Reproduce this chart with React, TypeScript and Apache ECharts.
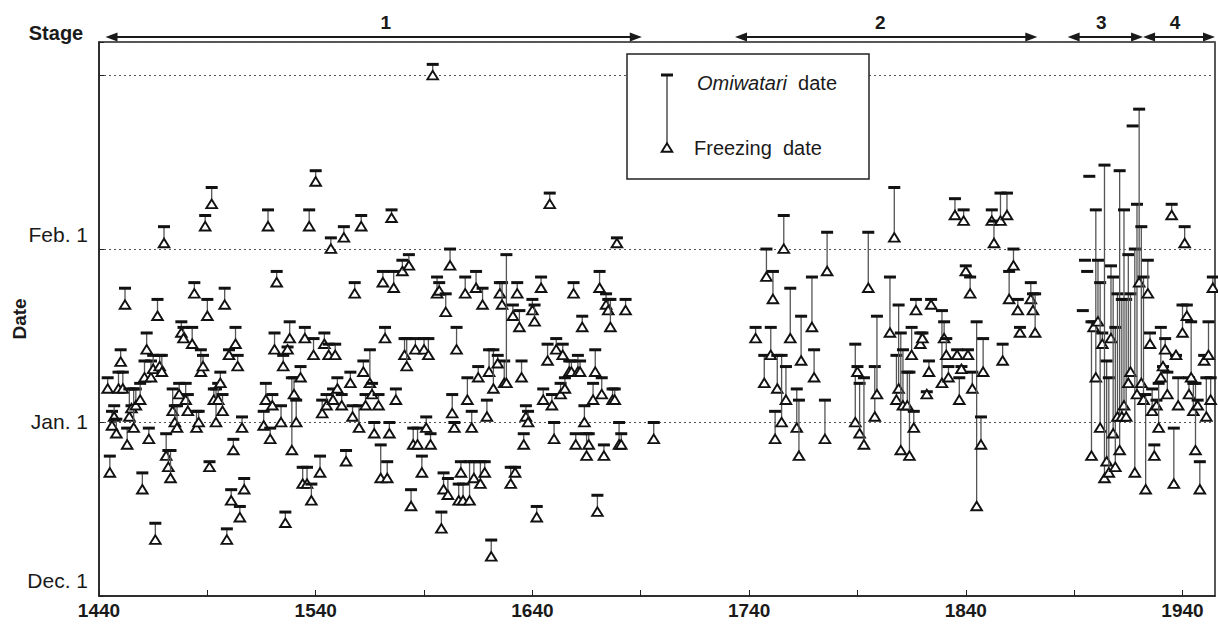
import React, { useEffect, useRef } from "react";
import * as echarts from "echarts";

// Year of observation
const years = [
  1444, 1445, 1446, 1447, 1448, 1449, 1450, 1451, 1452, 1453, 1454, 1455, 1456, 1457, 1459, 1460, 1461, 1462, 1463, 1464,
  1465, 1466, 1467, 1468, 1469, 1470, 1471, 1472, 1473, 1474, 1475, 1476, 1477, 1478, 1479, 1480, 1481, 1483, 1484, 1485,
  1486, 1487, 1488, 1489, 1490, 1491, 1492, 1493, 1494, 1495, 1496, 1497, 1498, 1499, 1500, 1501, 1502, 1503, 1504, 1505,
  1506, 1507, 1516, 1517, 1518, 1519, 1520, 1521, 1522, 1524, 1525, 1526, 1527, 1528, 1529, 1530, 1531, 1533, 1534, 1535,
  1536, 1537, 1538, 1539, 1540, 1542, 1543, 1544, 1545, 1546, 1547, 1548, 1549, 1550, 1552, 1553, 1554, 1556, 1557, 1558,
  1560, 1561, 1562, 1563, 1565, 1566, 1567, 1569, 1570, 1571, 1572, 1573, 1574, 1575, 1576, 1577, 1580, 1581, 1582, 1583,
  1584, 1585, 1586, 1587, 1589, 1590, 1591, 1592, 1593, 1594, 1596, 1597, 1598, 1599, 1600, 1601, 1602, 1603, 1604, 1605,
  1606, 1607, 1608, 1609, 1610, 1611, 1612, 1613, 1614, 1615, 1616, 1617, 1618, 1619, 1620, 1621, 1622, 1624, 1625, 1626,
  1627, 1628, 1630, 1631, 1632, 1633, 1634, 1635, 1636, 1637, 1638, 1640, 1641, 1642, 1644, 1645, 1647, 1648, 1649, 1650,
  1651, 1653, 1654, 1655, 1657, 1658, 1659, 1660, 1661, 1662, 1663, 1664, 1665, 1666, 1668, 1669, 1670, 1671, 1672, 1673,
  1674, 1675, 1676, 1677, 1678, 1679, 1680, 1681, 1683, 1696,
  1743, 1747, 1748, 1750, 1751, 1752, 1753, 1755, 1756, 1757, 1759, 1762, 1763, 1764, 1769, 1770, 1775, 1776, 1789, 1790,
  1791, 1793, 1795, 1798, 1799, 1805, 1807, 1808, 1809, 1810, 1811, 1813, 1814, 1815, 1816, 1817, 1819, 1820, 1822, 1823,
  1824, 1829, 1830, 1831, 1832, 1835, 1836, 1837, 1838, 1839, 1840, 1841, 1842, 1843, 1845, 1847, 1848, 1852, 1853, 1856,
  1857, 1859, 1860, 1862, 1864, 1865, 1870, 1871, 1872,
  1894, 1895, 1896, 1897, 1898, 1899, 1900, 1901, 1902, 1903, 1904, 1905, 1906, 1907, 1908, 1909, 1910, 1911, 1912, 1913,
  1914, 1915, 1916, 1917, 1918, 1919, 1920, 1921, 1922, 1923, 1924, 1925, 1926, 1927, 1928, 1929, 1930, 1931, 1932, 1933,
  1935, 1936, 1937, 1938, 1940, 1941, 1942, 1943, 1944, 1945, 1946, 1947, 1948, 1950, 1951, 1952, 1953, 1954,
];

// Omiwatari date, days after Dec. 1
const omiwatari = [
  39, 25, 33, 34, 31.6, 40, 44, 40, 55, 30, 37, 34, 37, 37, 38, 22, 42, 47, 30, 42,
  43, 13, 53, 43, 43, 66, 29, 26, 26, 37, 34, 34, 38, 49, 48, 38, 36, 48, 56, 33,
  33, 44, 43, 68, 53, 24, 73, 37, 37, 38, 40, 36, 55, 12, 44, 19, 28, 48, 43, 16,
  32, 21, 33, 38, 69, 30, 36, 47, 58, 34, 43, 15, 44.5, 49, 39, 39, 35, 41, 23, 48,
  23, 69, 20, 46, 76, 25, 35, 47, 36, 45, 64, 37, 45, 39, 36, 66, 26, 40, 34, 56,
  34, 68, 42, 36, 44, 38, 31, 36, 27, 58, 48, 24, 31, 69, 58, 37, 60, 46, 46, 61,
  19, 30, 46, 30, 25, 46, 32, 46, 29, 95, 57, 56, 15, 22, 54, 21, 62, 36, 31, 48,
  20, 24, 20, 57, 39, 24, 33, 24, 58, 41, 24, 55, 24, 35, 44, 10, 44, 43, 56, 56,
  42, 61, 23, 52, 23, 56, 51, 42, 29, 34, 33, 53, 52, 16, 57, 37, 45, 72, 36, 31,
  46, 38, 45, 39, 42, 42, 56, 29, 43, 42, 50, 34, 29, 29, 38, 44, 18, 58, 39, 27,
  54, 53, 53, 37, 37, 64, 31, 29, 53, 31,
  48, 43, 62, 48, 58, 33, 43, 43, 68, 41, 55, 37, 35, 50, 57, 44, 35, 65, 45, 41,
  38, 39, 65, 41, 50, 57, 73, 43, 52, 47, 44, 40, 40, 48, 33, 53, 47, 47, 36.5, 42,
  53, 51, 49, 46, 41, 71, 44, 39, 41, 69, 59, 44, 57, 40, 49, 32, 46, 69, 67, 72,
  45, 72, 58, 62, 53, 48, 56, 54, 54,
  51, 60, 58, 75, 49, 49, 69, 60, 56, 47, 77, 42, 39, 59, 57, 48, 54, 76, 53, 69,
  53, 61, 54, 84, 62, 70, 87, 66, 57, 36, 60, 47, 37, 27, 35, 38, 48, 41, 46, 40,
  70, 30, 43, 39, 52, 66, 52, 39, 49, 38, 38, 35, 24, 43, 39, 49, 39, 57,
];

// Freezing date, days after Dec. 1 (null = not recorded)
const freezing = [
  37, 22, 30.4, 32, 29, 37, 41.8, 37, 52, 27, 32, 33.5, 30, 34, 35, 19, 39, 44, 28, 39,
  40.5, 10, 50, 41, 40, 63, 25, 23, 21, 33, 31, 30, 36, 47, 46, 35, 33, 45, 54, 30,
  31, 40, 41, 66, 50, 23, 70, 35, 31, 35, 38, 33, 52, 10, 43, 17, 26, 45, 41, 14,
  30, 19, 30.4, 35, 66, 28, 34, 44, 56, 31, 41, 13, 44, 46, 26, 36, 31, 39, 20, 46,
  20, 66, 17, 43, 74, 22, 32.6, 45, 34, 43, 62, 35, 43, 37, 34, 64, 24, 38, 32, 54,
  30, 66, 40, 34, 38, 36, 29, 34, 21, 56, 46, 21, 29, 67.5, 55, 35, 58, 43, 41, 59,
  16, 27, 44, 27, 22, 44, 30, 43, 27, 93, 54, 54.5, 12, 19, 50.7, 18, 59, 32.6, 30, 44,
  17, 22, 17, 54, 35, 17, 30, 21, 55, 39, 20, 52, 22, 32, 40, 7, 37, 41.5, 54, 52,
  38, 38, 20, 50, 22, 54, 48, 39, 27, 32, 31, 51, 49, 14, 55, 35, 42, 70, 34, 28,
  44, 36, 43, 37, 40, 40, 54, 27, 40, 40, 48, 31, 25, 27, 35, 40, 15, 55, 36, 25,
  52, 51, 48, 35, 35, 63, 27, 27, 51, 28,
  46, 38, 57, 43, 53, 28, 37, 31, 62, 35, 46, 30, 25, 42, 48, 39, 28, 58, 31, 40,
  29, 27, 55, 32, 36, 47, 64, 35, 37, 26, 34, 34, 25, 43, 30, 51, 45, 46, 36, 40,
  52, 38, 46, 43, 39, 68, 43, 35, 40.5, 67, 58, 43, 54, 37, 16, 27, 40, 67, 63, 67,
  42, 68, 53, 59, 51, 47, 53, 51, 47,
  null, null, null, null, 25, 48, 39, 49, 30, 45, 21, 24, 22, 46, 29, 23, 32, 26, 32, 34,
  32, 38, 40, null, 22, 36, 56, 38, 35, 19, 54, 45, 33, 25, 34, 30, 39, 41, 44, 36,
  68, 20, 43, 34, 47, 63, 50, 36, 39, 33, 26, 34, 19, 42, 32, 43, 35, 55,
];

// Stages shown above the plot
const stageLabels = ["1", "2", "3", "4"];
const stageStart = [1443, 1733.5, 1887, 1921.8];
const stageEnd = [1690.5, 1873, 1921.8, 1955];

// Axis ticks
const xLabelYears = [1440, 1540, 1640, 1740, 1840, 1940];
const yTickValues = [0, 31, 62];
const yTickLabels = ["Dec. 1", "Jan. 1", "Feb. 1"];

const pairData: number[][] = [];
const loneData: number[][] = [];
years.forEach((y, i) => {
  if (freezing[i] == null) loneData.push([y, omiwatari[i]]);
  else pairData.push([y, omiwatari[i], freezing[i] as number]);
});

const TRI = 4.8;
const SANS = "'Liberation Sans', Arial, sans-serif";

function barShape(p: number[]) {
  return {
    type: "line",
    shape: { x1: p[0] - 6, y1: p[1], x2: p[0] + 6, y2: p[1] },
    style: { stroke: "#111", lineWidth: 3 },
  };
}

function triShape(p: number[]) {
  return {
    type: "polygon",
    shape: {
      points: [
        [p[0], p[1] - TRI],
        [p[0] - TRI - 0.5, p[1] + TRI - 1],
        [p[0] + TRI + 0.5, p[1] + TRI - 1],
      ],
    },
    style: { fill: "#fff", stroke: "#111", lineWidth: 1.9 },
  };
}

export default function App() {
  const ref = useRef<HTMLDivElement>(null);
  useEffect(() => {
    if (!ref.current) return;
    const chart = echarts.init(ref.current, null, { renderer: "svg" });
    const labelLift = [32, 2, 30];
    const yLab = { fontSize: 21, fontFamily: SANS, color: "#1a1a1a" };
    const option: any = {
      animation: false,
      backgroundColor: "#fff",
      grid: {
        left: 99,
        right: 3,
        top: 42,
        bottom: 46,
        containLabel: false,
        outerBoundsMode: "none",
        show: true,
        borderColor: "#222",
        borderWidth: 1.5,
        backgroundColor: "transparent",
      },
      xAxis: {
        type: "value",
        min: 1440,
        max: 1955,
        interval: 50,
        axisLine: { show: true, onZero: false, lineStyle: { color: "#222", width: 1.5 } },
        axisTick: { show: true, inside: true, length: 6, lineStyle: { color: "#222", width: 1 } },
        splitLine: { show: false },
        axisLabel: {
          margin: 5,
          color: "#1a1a1a",
          fontSize: 19,
          fontWeight: "bold",
          fontFamily: SANS,
          formatter: (v: number) => (xLabelYears.indexOf(v) >= 0 ? String(v) : ""),
          showMaxLabel: false,
        },
      },
      yAxis: {
        type: "value",
        min: 0,
        max: 99,
        interval: 31,
        name: "Date",
        nameLocation: "middle",
        nameRotate: 90,
        nameGap: 70,
        nameMoveOverlap: false,
        nameTextStyle: {
          color: "#1a1a1a",
          fontSize: 19,
          fontWeight: "bold",
          fontFamily: SANS,
        },
        axisLine: { show: true, onZero: false, lineStyle: { color: "#222", width: 1.5 } },
        axisTick: { show: true, inside: true, length: 5, lineStyle: { color: "#222" } },
        splitLine: { show: true, lineStyle: { color: "#555", type: [2, 3], width: 1 } },
        axisLabel: {
          margin: 11,
          color: "#1a1a1a",
          fontSize: 21,
          fontFamily: SANS,
          formatter: (v: number) => {
            const i = yTickValues.indexOf(v);
            return i >= 0 ? `{l${i}|${yTickLabels[i]}}` : "";
          },
          rich: {
            l0: { ...yLab, padding: [0, 0, labelLift[0], 0] },
            l1: { ...yLab, padding: [0, 0, labelLift[1], 0] },
            l2: { ...yLab, padding: [0, 0, labelLift[2], 0] },
          },
        },
      },
      series: [
        {
          type: "custom",
          name: "pairs",
          data: pairData,
          clip: false,
          encode: { x: 0, y: [1, 2] },
          renderItem: (params: any, api: any) => {
            const yr = api.value(0);
            const po = api.coord([yr, api.value(1)]);
            const pf = api.coord([yr, api.value(2)]);
            return {
              type: "group",
              children: [
                {
                  type: "line",
                  shape: { x1: po[0], y1: po[1], x2: pf[0], y2: pf[1] - TRI },
                  style: { stroke: "#555", lineWidth: 1.3 },
                },
                barShape(po),
                triShape(pf),
              ],
            };
          },
        },
        {
          type: "custom",
          name: "lone",
          data: loneData,
          encode: { x: 0, y: 1 },
          renderItem: (params: any, api: any) => {
            const po = api.coord([api.value(0), api.value(1)]);
            return barShape(po);
          },
        },
      ],
    };
    chart.setOption(option);

    const px = (yr: number) => chart.convertToPixel({ xAxisIndex: 0 }, yr) as number;
    const graphics: any[] = [];
    // legend box
    graphics.push({
      type: "rect",
      shape: { x: 627, y: 54, width: 242, height: 125 },
      style: { fill: "#fff", stroke: "#222", lineWidth: 1.5 },
      z: 100,
    });
    graphics.push({
      type: "line",
      shape: { x1: 667, y1: 75, x2: 667, y2: 144 },
      style: { stroke: "#333", lineWidth: 1.3 },
      z: 101,
    });
    graphics.push({ ...barShape([667, 75]), z: 101 });
    graphics.push({ ...triShape([667, 148]), z: 101 });
    graphics.push({
      type: "text",
      x: 697,
      y: 83,
      z: 101,
      style: {
        text: "{i|Omiwatari}  date",
        fontSize: 20,
        fontFamily: SANS,
        fill: "#1a1a1a",
        verticalAlign: "middle",
        rich: { i: { fontStyle: "italic", fontSize: 20, fontFamily: SANS, fill: "#1a1a1a" } },
      },
    });
    graphics.push({
      type: "text",
      x: 694,
      y: 148,
      z: 101,
      style: {
        text: "Freezing  date",
        fontSize: 20,
        fontFamily: SANS,
        fill: "#1a1a1a",
        verticalAlign: "middle",
      },
    });
    // Stage label
    graphics.push({
      type: "text",
      x: 56,
      y: 33,
      style: {
        text: "Stage",
        fontSize: 20,
        fontWeight: "bold",
        fontFamily: SANS,
        fill: "#1a1a1a",
        align: "center",
        verticalAlign: "middle",
      },
    });
    // stage arrows
    const ay = 37;
    const hl = 12;
    const hh = 4.5;
    stageLabels.forEach((lab, i) => {
      const x1 = px(stageStart[i]);
      const x2 = px(stageEnd[i]);
      graphics.push({
        type: "line",
        shape: { x1: x1 + hl - 1, y1: ay, x2: x2 - hl + 1, y2: ay },
        style: { stroke: "#1a1a1a", lineWidth: 2 },
      });
      graphics.push({
        type: "polygon",
        shape: { points: [[x1, ay], [x1 + hl, ay - hh], [x1 + hl, ay + hh]] },
        style: { fill: "#1a1a1a" },
      });
      graphics.push({
        type: "polygon",
        shape: { points: [[x2, ay], [x2 - hl, ay - hh], [x2 - hl, ay + hh]] },
        style: { fill: "#1a1a1a" },
      });
      graphics.push({
        type: "text",
        x: (x1 + x2) / 2 + (i === 0 ? 12 : i === 1 ? -6 : -4),
        y: 22,
        style: {
          text: lab,
          fontSize: 19,
          fontWeight: "bold",
          fontFamily: SANS,
          fill: "#1a1a1a",
          align: "center",
          verticalAlign: "middle",
        },
      });
    });
    chart.setOption({ graphic: graphics });

    return () => chart.dispose();
  }, []);
  return (
    <div
      ref={ref}
      style={{ position: "fixed", left: 0, top: 0, width: 1218, height: 642, background: "#fff" }}
    />
  );
}
